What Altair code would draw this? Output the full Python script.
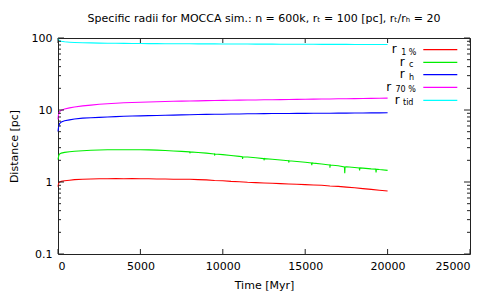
import altair as alt
import pandas as pd

# ---------------- data ----------------
time_myr = [0, 25, 50, 100, 200, 400, 700, 1000, 1500, 2000, 2500, 3000, 3500, 4000,
            4500, 5000, 5500, 6000, 6500, 7000, 7500, 8000, 8500, 9000, 9500, 10000,
            10500, 11000, 11500, 12000, 12500, 13000, 13500, 14000, 14500, 15000,
            15500, 16000, 16500, 17000, 17500, 18000, 18500, 19000, 19500, 20000]

r_1pct = [0.86, 0.92, 0.97, 1.00, 1.02, 1.04, 1.06, 1.08, 1.09, 1.10, 1.11, 1.11, 1.12,
          1.11, 1.12, 1.11, 1.11, 1.10, 1.10, 1.09, 1.09, 1.09, 1.08, 1.07, 1.05, 1.04,
          1.02, 1.01, 0.99, 0.98, 0.97, 0.96, 0.95, 0.94, 0.93, 0.92, 0.91, 0.90, 0.88,
          0.87, 0.85, 0.83, 0.81, 0.79, 0.77, 0.75]

r_c = [2.05, 2.20, 2.35, 2.45, 2.52, 2.58, 2.63, 2.68, 2.72, 2.76, 2.78, 2.80, 2.81,
       2.80, 2.81, 2.80, 2.79, 2.77, 2.74, 2.70, 2.66, 2.62, 2.57, 2.52, 2.46, 2.40,
       2.33, 2.27, 2.22, 2.17, 2.12, 2.07, 2.02, 1.98, 1.93, 1.88, 1.83, 1.78, 1.73,
       1.68, 1.63, 1.59, 1.56, 1.52, 1.49, 1.45]

# narrow downward spikes of the noisy r_c curve (time, value)
r_c_spike_t = [7980, 8000, 8020, 9480, 9500, 9520, 11180, 11200, 11220, 12480, 12500,
               12520, 13980, 14000, 14020, 15380, 15400, 15420, 16480, 16500, 16520,
               17380, 17400, 17420, 18280, 18300, 18320, 19280, 19300, 19320]
r_c_spike_v = [2.62, 2.50, 2.62, 2.45, 2.33, 2.45, 2.24, 2.10, 2.24, 2.11, 2.00, 2.11,
               1.97, 1.86, 1.97, 1.84, 1.72, 1.84, 1.72, 1.58, 1.72, 1.62, 1.32, 1.62,
               1.57, 1.45, 1.57, 1.51, 1.36, 1.51]

r_h = [5.0, 5.6, 6.0, 6.5, 6.8, 7.1, 7.3, 7.5, 7.7, 7.8, 7.9, 8.0, 8.1, 8.2, 8.25,
       8.3, 8.35, 8.4, 8.45, 8.5, 8.55, 8.6, 8.65, 8.7, 8.72, 8.75, 8.8, 8.82, 8.85,
       8.88, 8.9, 8.92, 8.94, 8.95, 8.97, 8.98, 9.0, 9.02, 9.03, 9.05, 9.06, 9.08,
       9.1, 9.11, 9.13, 9.15]

r_70pct = [7.4, 8.4, 9.0, 9.5, 9.9, 10.3, 10.7, 11.0, 11.4, 11.7, 12.0, 12.2, 12.4,
           12.6, 12.7, 12.8, 12.9, 13.0, 13.1, 13.2, 13.3, 13.35, 13.4, 13.5, 13.55,
           13.6, 13.65, 13.7, 13.75, 13.8, 13.85, 13.9, 13.95, 14.0, 14.05, 14.1,
           14.15, 14.2, 14.25, 14.3, 14.35, 14.4, 14.45, 14.5, 14.55, 14.6]

r_tid = [99, 96, 94, 92, 90, 88.5, 87.5, 86.8, 86, 85.5, 85, 84.7, 84.4, 84.2, 84,
         83.8, 83.6, 83.5, 83.4, 83.3, 83.2, 83.1, 83, 82.9, 82.8, 82.7, 82.6, 82.5,
         82.4, 82.3, 82.2, 82.1, 82, 81.9, 81.8, 81.8, 81.7, 81.6, 81.6, 81.5, 81.5,
         81.4, 81.4, 81.3, 81.3, 81.2]

series_keys = ["r1", "rc", "rh", "r70", "rtid"]
series_vals = [r_1pct, r_c, r_h, r_70pct, r_tid]
series_colors = ["#ff0000", "#00ee00", "#0000ff", "#ff00ff", "#00ffff"]
legend_sub = ["1 %", "c", "h", "70 %", "tid"]

x_ticks = [0, 5000, 10000, 15000, 20000, 25000]
y_major = [0.1, 1, 10, 100]
y_minor = [0.2, 0.3, 0.4, 0.5, 0.6, 0.7, 0.8, 0.9, 2, 3, 4, 5, 6, 7, 8, 9,
           20, 30, 40, 50, 60, 70, 80, 90]

# ---------------- build ----------------
W, H = 412, 216
FONT = "DejaVu Sans"
AX = "#222222"

rows = []
for k, vals in zip(series_keys, series_vals):
    for t, v in zip(time_myr, vals):
        rows.append({"t": t, "v": v, "s": k})
for t, v in zip(r_c_spike_t, r_c_spike_v):
    rows.append({"t": t, "v": v, "s": "rc"})
df = pd.DataFrame(rows).sort_values(["s", "t"]).reset_index(drop=True)

xs = alt.Scale(domain=[0, 25000], nice=False, zero=False)
ys = alt.Scale(type="log", domain=[0.1, 100], nice=False)

lines = alt.Chart(df).mark_line(strokeWidth=1.1).encode(
    x=alt.X("t:Q", scale=xs,
            axis=alt.Axis(values=x_ticks, format="d", ticks=False, domain=False,
                          grid=False, labelPadding=6, title="Time [Myr]",
                          titlePadding=8)),
    y=alt.Y("v:Q", scale=ys,
            axis=alt.Axis(values=y_major, format="~g", ticks=False, domain=False,
                          grid=False, labelPadding=6, title="Distance [pc]",
                          titlePadding=12)),
    color=alt.Color("s:N", scale=alt.Scale(domain=series_keys, range=series_colors),
                    legend=None),
    order="t:Q",
)

xt = pd.DataFrame({"t": x_ticks})
xtick_b = alt.Chart(xt).mark_rule(color=AX, strokeWidth=1).encode(
    x=alt.X("t:Q", scale=xs), y=alt.value(H), y2=alt.value(H - 5))
xtick_t = alt.Chart(xt).mark_rule(color=AX, strokeWidth=1).encode(
    x=alt.X("t:Q", scale=xs), y=alt.value(0), y2=alt.value(5))

ym = pd.DataFrame({"v": y_major})
yn = pd.DataFrame({"v": y_minor})
ytick_l = alt.Chart(ym).mark_rule(color=AX).encode(
    y=alt.Y("v:Q", scale=ys), x=alt.value(0), x2=alt.value(6))
ytick_r = alt.Chart(ym).mark_rule(color=AX).encode(
    y=alt.Y("v:Q", scale=ys), x=alt.value(W), x2=alt.value(W - 6))
ymin_l = alt.Chart(yn).mark_rule(color=AX).encode(
    y=alt.Y("v:Q", scale=ys), x=alt.value(0), x2=alt.value(3))
ymin_r = alt.Chart(yn).mark_rule(color=AX).encode(
    y=alt.Y("v:Q", scale=ys), x=alt.value(W), x2=alt.value(W - 3))

# legend (inside top-right, gnuplot style)
leg_layers = []
row_y = [11.7, 24.3, 36.7, 49.3, 62.3]
r_x = [333.7, 341.7, 341.7, 328.3, 336.7]
sub_x = [343.2, 351.0, 351.0, 337.5, 345.0]
one = pd.DataFrame({"a": [0]})
for k in range(5):
    leg_layers.append(alt.Chart(one).mark_rule(color=series_colors[k], strokeWidth=1.3).encode(
        x=alt.value(365.3), x2=alt.value(399.3), y=alt.value(row_y[k])))
    leg_layers.append(alt.Chart(one).mark_text(
        text="r", font=FONT, fontSize=12, align="left", baseline="middle", color="#000").encode(
        x=alt.value(r_x[k]), y=alt.value(row_y[k] - 0.5)))
    leg_layers.append(alt.Chart(one).mark_text(
        text=legend_sub[k], font=FONT, fontSize=8, align="left", baseline="middle", color="#000").encode(
        x=alt.value(sub_x[k]), y=alt.value(row_y[k] + 3)))

chart = alt.layer(
    lines, xtick_b, xtick_t, ytick_l, ytick_r, ymin_l, ymin_r, *leg_layers
).properties(
    width=W, height=H,
    title=alt.TitleParams(
        "Specific radii for MOCCA sim.: n = 600k, r\u209c = 100 [pc], r\u209c/r\u2095 = 20",
        font=FONT, fontSize=11, fontWeight="normal", color="#000", offset=8, anchor="middle"),
    autosize=alt.AutoSizeParams(type="none"),
    padding={"left": 50, "top": 30, "right": 13, "bottom": 40},
).configure_view(
    stroke=AX, strokeWidth=1
).configure_axis(
    labelFont=FONT, labelFontSize=11, labelColor="#000",
    titleFont=FONT, titleFontSize=11, titleColor="#000", titleFontWeight="normal",
)

chart.save("out.html", embed_options={"renderer": "svg", "actions": False})
